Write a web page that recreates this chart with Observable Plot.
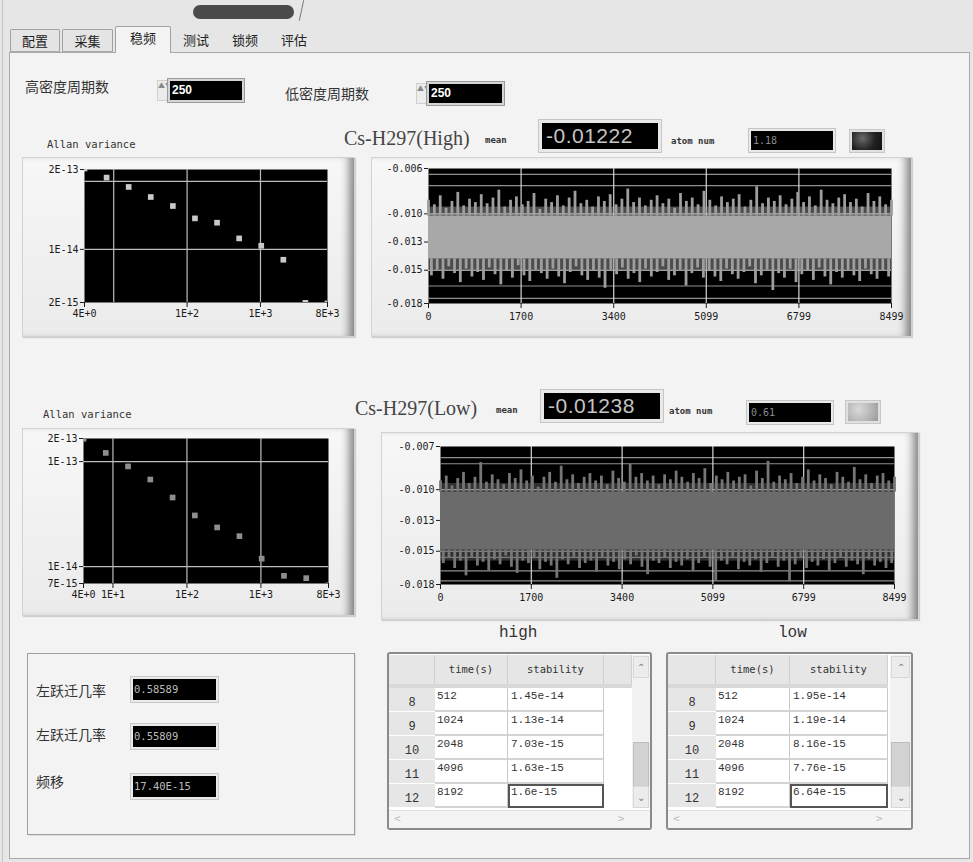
<!DOCTYPE html>
<html><head><meta charset="utf-8">
<script src="https://cdn.jsdelivr.net/npm/d3@7"></script>
<script src="https://cdn.jsdelivr.net/npm/@observablehq/plot@0.6"></script>
<style>
html,body{margin:0;padding:0;background:#e6e6e6;}
#root{position:relative;width:973px;height:862px;overflow:hidden;background:#e6e6e6;font-family:"Noto Sans CJK SC",sans-serif;color:#222;}
#root div{box-sizing:border-box;}
</style></head>
<body><div id="root"></div>
<script>
// ---------------- data ----------------
const tabLabels = ["配置","采集","稳频","测试","锁频","评估"];
const cycleLabels = ["高密度周期数","低密度周期数"];
const cycleValues = ["250","250"];

const allanTau = [4,8,16,32,64,128,256,512,1024,2048,4096,8192];
const allanHigh = [1.55e-13,1.14e-13,8.3e-14,5.9e-14,4.35e-14,2.86e-14,2.47e-14,1.45e-14,1.13e-14,7.03e-15,1.63e-15,1.6e-15];
const allanLow  = [1.65e-13,1.21e-13,9.0e-14,6.75e-14,4.55e-14,3.07e-14,2.36e-14,1.95e-14,1.19e-14,8.16e-15,7.76e-15,6.64e-15];
const allanXDomain = [4, 8192];
const allanGridX = [10, 100, 1000];
const allanGridY = [1e-13, 1e-14];
const allanHighXTicks = [4, 100, 1000, 8192];
const allanHighXLabels = ["4E+0","1E+2","1E+3","8E+3"];
const allanLowXTicks = [4, 10, 100, 1000, 8192];
const allanLowXLabels = ["4E+0","1E+1","1E+2","1E+3","8E+3"];
const allanHighYDomain = [1.65e-15, 1.5e-13];
const allanHighYTicks = [1.5e-13, 1e-14, 1.65e-15];
const allanHighYLabels = ["2E-13","1E-14","2E-15"];
const allanLowYDomain = [6.9e-15, 1.66e-13];
const allanLowYTicks = [1.66e-13, 1e-13, 1e-14, 6.9e-15];
const allanLowYLabels = ["2E-13","1E-13","1E-14","7E-15"];

const seriesXMax = 8499;
const seriesXTicks = [0,1700,3400,5099,6799,8499];
const highYDomain = [-0.01795, -0.00598];
const highYTicks = [-0.00598,-0.010,-0.0125,-0.015,-0.01795];
const highYLabels = ["-0.006","-0.010","-0.013","-0.015","-0.018"];
const lowYDomain = [-0.0177, -0.0065];
const lowYTicks = [-0.0065,-0.010,-0.0125,-0.015,-0.0177];
const lowYLabels = ["-0.007","-0.010","-0.013","-0.015","-0.018"];
const highGridY = [-0.010,-0.015];
const lowGridY = [-0.010,-0.015];
const highLimits = [-0.0065,-0.0075,-0.0164,-0.0175];
const lowLimits = [-0.0074,-0.0079,-0.0155,-0.0166,-0.0174];
const highCore = [-0.0102,-0.0140];
const lowCore = [-0.0102,-0.0149];
const highFuzz = [-0.0094,-0.0151];
const lowFuzz = [-0.0095,-0.0158];
const highTop = [-0.0088,-0.0092,-0.0084,-0.0095,-0.0089,-0.0081,-0.0093,-0.0087,-0.0090,-0.0083,
-0.0091,-0.0086,-0.0079,-0.0094,-0.0088,-0.0085,-0.0092,-0.0089,-0.0082,-0.0096,
-0.0087,-0.0090,-0.0084,-0.0093,-0.0086,-0.0080,-0.0091,-0.0088,-0.0094,-0.0085,
-0.0089,-0.0083,-0.0092,-0.0087,-0.0078,-0.0090,-0.0086,-0.0093,-0.0088,-0.0084,
-0.0091,-0.0087,-0.0095,-0.0082,-0.0089,-0.0086,-0.0092,-0.0080,-0.0088,-0.0093,
-0.0085,-0.0090,-0.0087,-0.0083,-0.0094,-0.0088,-0.0076,-0.0091,-0.0086,-0.0089,
-0.0084,-0.0092,-0.0087,-0.0081,-0.0090,-0.0085,-0.0093,-0.0079,-0.0088,-0.0091,
-0.0086,-0.0083,-0.0090,-0.0087,-0.0094,-0.0082,-0.0089,-0.0085,-0.0092,-0.0088];
const highBottom = [-0.0155,-0.0150,-0.0158,-0.0147,-0.0153,-0.0161,-0.0149,-0.0156,-0.0152,-0.0159,
-0.0148,-0.0154,-0.0163,-0.0151,-0.0157,-0.0146,-0.0155,-0.0160,-0.0150,-0.0153,
-0.0158,-0.0149,-0.0156,-0.0162,-0.0152,-0.0147,-0.0155,-0.0159,-0.0151,-0.0157,
-0.0166,-0.0150,-0.0154,-0.0148,-0.0158,-0.0153,-0.0161,-0.0149,-0.0156,-0.0152,
-0.0147,-0.0159,-0.0155,-0.0150,-0.0164,-0.0153,-0.0148,-0.0157,-0.0151,-0.0156,
-0.0160,-0.0149,-0.0154,-0.0158,-0.0152,-0.0147,-0.0162,-0.0155,-0.0150,-0.0168,
-0.0153,-0.0157,-0.0149,-0.0161,-0.0154,-0.0151,-0.0159,-0.0148,-0.0156,-0.0163,
-0.0152,-0.0157,-0.0150,-0.0155,-0.0160,-0.0149,-0.0154,-0.0158,-0.0151,-0.0156];
const lowTop = [-0.0093,-0.0089,-0.0097,-0.0091,-0.0086,-0.0095,-0.0090,-0.0078,-0.0094,-0.0088,
-0.0092,-0.0096,-0.0087,-0.0091,-0.0084,-0.0093,-0.0089,-0.0098,-0.0090,-0.0086,
-0.0094,-0.0081,-0.0092,-0.0088,-0.0095,-0.0090,-0.0087,-0.0093,-0.0089,-0.0096,
-0.0085,-0.0091,-0.0094,-0.0079,-0.0090,-0.0087,-0.0093,-0.0089,-0.0096,-0.0088,
-0.0092,-0.0085,-0.0090,-0.0094,-0.0087,-0.0091,-0.0083,-0.0095,-0.0089,-0.0092,
-0.0086,-0.0093,-0.0090,-0.0088,-0.0097,-0.0085,-0.0091,-0.0077,-0.0094,-0.0089,
-0.0092,-0.0087,-0.0095,-0.0090,-0.0084,-0.0093,-0.0088,-0.0091,-0.0096,-0.0086,
-0.0090,-0.0094,-0.0082,-0.0092,-0.0088,-0.0095,-0.0089,-0.0087,-0.0093,-0.0090];
const lowBottom = [-0.0160,-0.0156,-0.0164,-0.0158,-0.0170,-0.0155,-0.0162,-0.0159,-0.0166,-0.0157,
-0.0161,-0.0154,-0.0163,-0.0168,-0.0158,-0.0160,-0.0156,-0.0165,-0.0159,-0.0162,
-0.0172,-0.0157,-0.0161,-0.0155,-0.0164,-0.0160,-0.0158,-0.0167,-0.0156,-0.0162,
-0.0159,-0.0165,-0.0157,-0.0161,-0.0154,-0.0163,-0.0169,-0.0158,-0.0160,-0.0156,
-0.0164,-0.0159,-0.0162,-0.0157,-0.0166,-0.0160,-0.0155,-0.0163,-0.0174,-0.0158,
-0.0161,-0.0156,-0.0165,-0.0159,-0.0162,-0.0157,-0.0167,-0.0160,-0.0155,-0.0163,
-0.0158,-0.0175,-0.0161,-0.0156,-0.0164,-0.0159,-0.0162,-0.0157,-0.0166,-0.0160,
-0.0155,-0.0163,-0.0158,-0.0161,-0.0169,-0.0157,-0.0162,-0.0159,-0.0164,-0.0160];

const seriesTitles = ["Cs-H297(High)","Cs-H297(Low)"];
const meanValues = ["-0.01222","-0.01238"];
const atomNums = ["1.18","0.61"];
const tableTitles = ["high","low"];
const tableHeaders = ["time(s)","stability"];
const tableRows = ["8","9","10","11","12"];
const tableTimes = ["512","1024","2048","4096","8192"];
const highStab = ["1.45e-14","1.13e-14","7.03e-15","1.63e-15","1.6e-15"];
const lowStab = ["1.95e-14","1.19e-14","8.16e-15","7.76e-15","6.64e-15"];
const probLabels = ["左跃迁几率","左跃迁几率","频移"];
const probValues = ["0.58589","0.55809","17.40E-15"];

// ---------------- helpers ----------------
const root = document.getElementById("root");
function box(l,t,w,h,css={},text=""){
  const d=document.createElement("div");
  Object.assign(d.style,{position:"absolute",left:l+"px",top:t+"px",width:w+"px",height:h+"px"},css);
  if(text!=="") d.textContent=text;
  root.appendChild(d); return d;
}
function txt(l,t,text,css={}){
  const d=document.createElement("div");
  Object.assign(d.style,{position:"absolute",left:l+"px",top:t+"px",whiteSpace:"nowrap",lineHeight:"1"},css);
  d.textContent=text; root.appendChild(d); return d;
}
function mount(l,t,node){
  const w=document.createElement("div");
  Object.assign(w.style,{position:"absolute",left:l+"px",top:t+"px"});
  w.appendChild(node); root.appendChild(w);
}
const mono = "'DejaVu Sans Mono','Liberation Mono',monospace";

// ---------------- window chrome ----------------
box(2,0,1,862,{background:"#c4c4c4"});
box(9,52,961,807,{background:"#f3f3f3",border:"1px solid #a9a9a9"});
box(193,5,101,14,{background:"#4b4b4b",borderRadius:"7px"});
box(301,0,1,21,{background:"#777",transform:"rotate(12deg)"});
const tabBoxes=[[10,29,50],[62,29,51],[115,26,56]];
tabBoxes.forEach(([x,y,w],i)=>{
  const sel = i===2;
  box(x,y,w,(sel?27:23),{background:sel?"#f3f3f3":"#e4e4e4",border:"1px solid #a2a2a2",borderBottom:sel?"none":"1px solid #a9a9a9",
    borderRadius:"2px 2px 0 0",fontSize:"13px",textAlign:"center",lineHeight:"22px",color:"#222"},tabLabels[i]);
});
txt(183,33,tabLabels[3],{fontSize:"13px"});
txt(232,33,tabLabels[4],{fontSize:"13px"});
txt(281,33,tabLabels[5],{fontSize:"13px"});

function numCtrl(x,y,w,h,value){
  box(x-11,y+1,11,h-2,{background:"#ececec",border:"1px solid #d0d0d0",fontSize:"7px",color:"#888",textAlign:"center",lineHeight:"9px"},"▲▼");
  box(x,y,w,h,{background:"#000",border:"2px solid #d4d4d4",outline:"1px solid #9a9a9a",color:"#fff",fontFamily:"'Liberation Sans',sans-serif",fontWeight:"bold",fontSize:"12px",lineHeight:(h-4)+"px",paddingLeft:"2px"},value);
}
txt(25,79,cycleLabels[0],{fontSize:"14px",color:"#333"});
numCtrl(168,79,76,23,cycleValues[0]);
txt(285,86,cycleLabels[1],{fontSize:"14px",color:"#333"});
numCtrl(427,82,77,23,cycleValues[1]);

// ---------------- chart frames ----------------
const frameCss={background:"linear-gradient(to bottom,#f7f7f7,#ebebeb)",border:"1px solid #d2d2d2",boxShadow:"inset -10px 0 8px -5px rgba(0,0,0,0.45), 1px 1px 1px rgba(0,0,0,0.15)"};
box(22,157,333,180,frameCss);
box(22,428,333,188,frameCss);
box(371,157,541,180,frameCss);
box(381,432,538,188,frameCss);

txt(47,139,"Allan variance",{fontFamily:mono,fontSize:"10.5px",color:"#333"});
txt(43,409,"Allan variance",{fontFamily:mono,fontSize:"10.5px",color:"#333"});

const plotStyle={background:"transparent",fontFamily:mono,fontSize:"10px",color:"#1b1b1b",overflow:"visible"};

function allanPlot(o){
  return Plot.plot({
    width:o.width,height:o.height,marginLeft:o.mL,marginRight:o.mR,marginTop:o.mT,marginBottom:o.mB,
    style:plotStyle,
    x:{type:"log",domain:allanXDomain,axis:null},
    y:{type:"log",domain:o.yDomain,ticks:o.yTicks,tickFormat:d=>o.yLabels[o.yTicks.indexOf(d)],tickSize:4,tickPadding:2,label:null},
    marks:[
      Plot.frame({fill:"#000"}),
      Plot.ruleX(allanGridX,{stroke:"#bdbdbd",strokeWidth:1.2}),
      Plot.ruleY(allanGridY,{stroke:"#bdbdbd",strokeWidth:1.2}),
      Plot.dot(o.values,{x:(d,i)=>allanTau[i],y:d=>d,symbol:"square",r:3.2,fill:o.fill,stroke:"none",clip:true}),
      Plot.ruleX(o.xTicks,{x:d=>d,y1:o.yDomain[0],y2:o.yDomain[0],insetBottom:-5,stroke:"#1b1b1b"}),
      Plot.text(o.xTicks,{x:d=>d,text:(d,i)=>o.xLabels[i],frameAnchor:"bottom",dy:14,fill:"#1b1b1b"})
    ]
  });
}
mount(22,157,allanPlot({width:333,height:180,mL:62,mR:28,mT:12,mB:35,xTicks:allanHighXTicks,xLabels:allanHighXLabels,
  yDomain:allanHighYDomain,yTicks:allanHighYTicks,yLabels:allanHighYLabels,values:allanHigh,fill:"#c9c9c9"}));
mount(22,428,allanPlot({width:333,height:188,mL:61,mR:27,mT:10,mB:33,xTicks:allanLowXTicks,xLabels:allanLowXLabels,
  yDomain:allanLowYDomain,yTicks:allanLowYTicks,yLabels:allanLowYLabels,values:allanLow,fill:"#8e8e8e"}));

function seriesPlot(o){
  const nT=o.top.length,nB=o.bottom.length;
  const topPts=o.top.map((v,i)=>({x:i*seriesXMax/(nT-1),y:v,y0:o.core[0]}));
  const botPts=o.bottom.map((v,i)=>({x:(i+0.5)*seriesXMax/nB,y:v,y0:o.core[1]}));
  return Plot.plot({
    width:o.width,height:o.height,marginLeft:o.mL,marginRight:o.mR,marginTop:o.mT,marginBottom:o.mB,
    style:plotStyle,
    x:{domain:[0,seriesXMax],ticks:seriesXTicks,tickFormat:d=>String(d),tickSize:5,label:null},
    y:{domain:o.yDomain,ticks:o.yTicks,tickFormat:d=>o.yLabels[o.yTicks.indexOf(d)],tickSize:4,tickPadding:2,label:null},
    marks:[
      Plot.frame({fill:"#000"}),
      Plot.ruleY(o.limits,{stroke:"#8f8f8f",strokeWidth:1.2}),
      Plot.ruleX(seriesXTicks.slice(1,-1),{stroke:"#d6d6d6",strokeWidth:1.2}),
      Plot.ruleY(o.grid,{stroke:"#c6c6c6",strokeWidth:1.2}),
      Plot.rect([{x1:0,x2:seriesXMax,y1:o.fuzz[0],y2:o.fuzz[1]}],{x1:"x1",x2:"x2",y1:"y1",y2:"y2",fill:o.band,fillOpacity:0.45}),
      Plot.rect([{x1:0,x2:seriesXMax,y1:o.core[0],y2:o.core[1]}],{x1:"x1",x2:"x2",y1:"y1",y2:"y2",fill:o.band}),
      Plot.ruleX(topPts,{x:"x",y1:"y0",y2:"y",stroke:o.spike,strokeWidth:2.8}),
      Plot.ruleX(botPts,{x:"x",y1:"y0",y2:"y",stroke:o.spike,strokeWidth:2.8})
    ]
  });
}
mount(371,157,seriesPlot({width:541,height:180,mL:57,mR:21,mT:11,mB:34,yDomain:highYDomain,yTicks:highYTicks,yLabels:highYLabels,
  grid:highGridY,limits:highLimits,core:highCore,fuzz:highFuzz,top:highTop,bottom:highBottom,band:"#a8a8a8",spike:"#9e9e9e"}));
mount(381,432,seriesPlot({width:538,height:188,mL:59,mR:25,mT:14,mB:36,yDomain:lowYDomain,yTicks:lowYTicks,yLabels:lowYLabels,
  grid:lowGridY,limits:lowLimits,core:lowCore,fuzz:lowFuzz,top:lowTop,bottom:lowBottom,band:"#6b6b6b",spike:"#767676"}));

// ---------------- indicators above series ----------------
function header(titleX,titleY,title,meanX,boxY,mean,atomX,atomBoxX,atomBoxY,atom,ledX,ledY,ledBg){
  txt(titleX,titleY,title,{fontFamily:"'Liberation Serif',serif",fontSize:"20px",color:"#444"});
  txt(titleX+141,titleY+8,"mean",{fontFamily:mono,fontSize:"9px",fontWeight:"bold",color:"#333"});
  box(meanX,boxY,124,34,{background:"#e9e9e9",border:"1px solid #c6c6c6",padding:"3px"});
  box(meanX+4,boxY+4,116,26,{background:"#000",color:"#c4c4c4",fontFamily:"'Liberation Sans',sans-serif",fontSize:"21px",lineHeight:"26px",paddingLeft:"4px",letterSpacing:"0.5px"},mean);
  txt(atomX,titleY+9,"atom num",{fontFamily:mono,fontSize:"9px",fontWeight:"bold",color:"#333"});
  box(atomBoxX,atomBoxY,88,25,{background:"#e9e9e9",border:"1px solid #c6c6c6"});
  box(atomBoxX+3,atomBoxY+3,82,19,{background:"#000",color:"#8a8a8a",fontFamily:mono,fontSize:"10px",lineHeight:"19px",paddingLeft:"2px"},atom);
  box(ledX,ledY,36,24,{background:"#e0e0e0",border:"1px solid #c8c8c8",padding:"2px"});
  box(ledX+3,ledY+3,30,18,{background:ledBg});
}
header(344,128,seriesTitles[0],538,119,meanValues[0],671,748,128,atomNums[0],849,129,"radial-gradient(circle at 35% 35%,#6a6a6a,#222 55%,#111)");
header(355,398,seriesTitles[1],540,389,meanValues[1],669,746,400,atomNums[1],845,400,"radial-gradient(circle at 35% 35%,#dadada,#b4b4b4 60%,#9a9a9a)");

// ---------------- tables ----------------
txt(499,625,tableTitles[0],{fontFamily:"'Liberation Mono',monospace",fontSize:"16px",color:"#333"});
txt(778,625,tableTitles[1],{fontFamily:"'Liberation Mono',monospace",fontSize:"16px",color:"#333"});

function table(o){
  const rowY=[688,712,736,760,784];
  box(o.x0,652,o.x1-o.x0,178,{background:"#fff",border:"2px solid #8a8a8a",borderRadius:"3px"});
  const cells=[[o.c[0],o.c[1],""],[o.c[1],o.c[2],tableHeaders[0]],[o.c[2],o.c[3],tableHeaders[1]]];
  if(o.extra) cells.push([o.c[3],o.extra,""]);
  const hdrEnd=o.extra||o.c[3];
  cells.forEach(([a,b,t])=>box(a,655,b-a,29,{background:"#e6e6e6",borderRight:"1px solid #cfcfcf",fontFamily:mono,fontSize:"10.5px",color:"#333",textAlign:"center",lineHeight:"29px"},t));
  box(o.c[0],684,hdrEnd-o.c[0],4,{background:"#d9d9d9"});
  rowY.forEach((y,r)=>{
    box(o.c[0],y,o.c[1]-o.c[0],24,{background:"#e6e6e6",borderBottom:"1px solid #fff",fontFamily:"'Liberation Mono',monospace",fontSize:"12px",color:"#333",textAlign:"center",paddingTop:"8px"},tableRows[r]);
    box(o.c[1],y,o.c[2]-o.c[1],24,{background:"#fff",borderBottom:"2px solid #d4d4d4",borderRight:"1px solid #c8c8c8",fontFamily:"'Liberation Mono',monospace",fontSize:"11px",color:"#333",padding:"2px 0 0 2px"},tableTimes[r]);
    const sel=r===4;
    box(o.c[2],y,o.c[3]-o.c[2],24,sel?{background:"#fff",border:"2px solid #555",fontFamily:"'Liberation Mono',monospace",fontSize:"11px",color:"#333",padding:"0 0 0 1px"}
      :{background:"#fff",borderBottom:"2px solid #d4d4d4",borderRight:"1px solid #c8c8c8",fontFamily:"'Liberation Mono',monospace",fontSize:"11px",color:"#333",padding:"2px 0 0 3px"},o.stab[r]);
  });
  box(o.v0,655,o.v1-o.v0,153,{background:"#f2f2f2"});
  box(o.v0+1,656,o.v1-o.v0-2,22,{background:"#ececec",border:"1px solid #d8d8d8",fontSize:"10px",color:"#777",textAlign:"center",lineHeight:"20px"},"⌃");
  box(o.v0+1,742,o.v1-o.v0-2,46,{background:"#d2d2d2",border:"1px solid #bdbdbd"});
  box(o.v0+1,786,o.v1-o.v0-2,22,{background:"#ececec",border:"1px solid #d8d8d8",fontSize:"10px",color:"#777",textAlign:"center",lineHeight:"20px"},"⌄");
  box(o.c[0],810,o.v1-o.c[0],18,{background:"#f4f4f4",borderTop:"1px solid #e0e0e0"});
  txt(o.c[0]+5,813,"<",{fontSize:"11px",color:"#bbb",fontFamily:mono});
  txt(o.v0-14,813,">",{fontSize:"11px",color:"#bbb",fontFamily:mono});
}
table({x0:387,x1:652,c:[389,435,508,604],extra:632,v0:632,v1:650,stab:highStab});
table({x0:666,x1:913,c:[668,716,790,888],extra:null,v0:890,v1:911,stab:lowStab});

// ---------------- probabilities box ----------------
box(27,653,328,182,{border:"1px solid #9d9d9d",boxShadow:"1px 1px 0 #ddd"});
const probY=[[683,676],[727,723],[774,773]];
probLabels.forEach((l,i)=>{
  txt(36,probY[i][0],l,{fontSize:"14px",color:"#333"});
  box(130,probY[i][1],89,27,{background:"#e9e9e9",border:"1px solid #c8c8c8",padding:"3px"});
  box(133,probY[i][1]+3,83,21,{background:"#000",color:"#bdbdbd",fontFamily:mono,fontSize:"10.5px",lineHeight:"21px",paddingLeft:"1px"},probValues[i]);
});
</script></body></html>
